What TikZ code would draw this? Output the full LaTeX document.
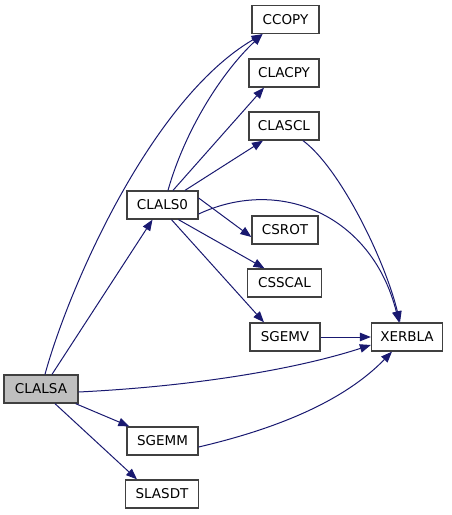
\documentclass[tikz,border=0pt]{standalone}
\usepackage{fontspec}
\setmainfont{DejaVu Sans}
\usetikzlibrary{arrows.meta}
\definecolor{edgec}{HTML}{191970}
\definecolor{boxc}{HTML}{404040}
\begin{document}
\begin{tikzpicture}[x=1pt,y=-1pt,
  fn/.style={draw=boxc,line width=1.3pt,fill=white,minimum height=28pt,inner sep=0pt,
    font=\fontsize{13.5}{16}\selectfont},
  ed/.style={draw=edgec,line width=1pt,-{Triangle[length=11pt,width=8.5pt]}}]
\useasboundingbox (0,0) rectangle (451,515);
\node[fn,fill={rgb,255:red,191;green,191;blue,191},minimum width=74pt] (clalsa) at (41,389) {CLALSA};
\node[fn,minimum width=71pt] (sgemm) at (162.5,441) {SGEMM};
\node[fn,minimum width=73pt] (slasdt) at (162,494) {SLASDT};
\node[fn,minimum width=71pt] (clals0) at (162.5,205) {CLALS0};
\node[fn,minimum width=67pt] (ccopy) at (285.5,19.5) {CCOPY};
\node[fn,minimum width=70pt] (clacpy) at (284,73) {CLACPY};
\node[fn,minimum width=70pt] (clascl) at (284,126) {CLASCL};
\node[fn,minimum width=66pt] (csrot) at (285,230) {CSROT};
\node[fn,minimum width=74pt] (csscal) at (284.5,283) {CSSCAL};
\node[fn,minimum width=70pt] (sgemv) at (285,337) {SGEMV};
\node[fn,minimum width=71pt] (xerbla) at (407,337) {XERBLA};
% CLALSA edges
\draw[ed] ([xshift=4pt]clalsa.north) .. controls (68,290) and (150,100) .. ([xshift=-23pt]ccopy.south);
\draw[ed] ([xshift=11pt]clalsa.north) -- ([xshift=-10pt]clals0.south);
\draw[ed] ([yshift=-3pt]clalsa.east) .. controls (200,386) and (300,368) .. ([yshift=-8pt]xerbla.west);
\draw[ed] ([xshift=-3pt]clalsa.south east) -- ([xshift=3pt]sgemm.north west);
\draw[ed] ([xshift=14pt]clalsa.south) -- ([xshift=-25pt]slasdt.north);
% CLALS0 edges
\draw[ed] ([xshift=5.5pt]clals0.north) .. controls (185,130) and (222,72) .. ([xshift=-23pt]ccopy.south);
\draw[ed] ([xshift=10.5pt]clals0.north) -- ([xshift=-20pt]clacpy.south);
\draw[ed] ([xshift=22.5pt]clals0.north) -- ([xshift=-21pt]clascl.south);
\draw[ed] ([yshift=-9pt]clals0.east) .. controls (280,176) and (372,215) .. ([xshift=-8pt]xerbla.north);
\draw[ed] ([yshift=7pt]clals0.east) -- ([yshift=-7pt]csrot.west);
\draw[ed] ([xshift=16pt]clals0.south) -- ([xshift=-20pt]csscal.north);
\draw[ed] ([xshift=9pt]clals0.south) -- ([xshift=-21pt]sgemv.north);
% others
\draw[ed] ([xshift=19pt]clascl.south) .. controls (340,168) and (385,260) .. ([xshift=-7pt]xerbla.north);
\draw[ed] (sgemv.east) -- (xerbla.west);
\draw[ed] ([yshift=-6pt]sgemm.east) .. controls (280,428) and (345,400) .. ([xshift=-15pt]xerbla.south);
\end{tikzpicture}
\end{document}
